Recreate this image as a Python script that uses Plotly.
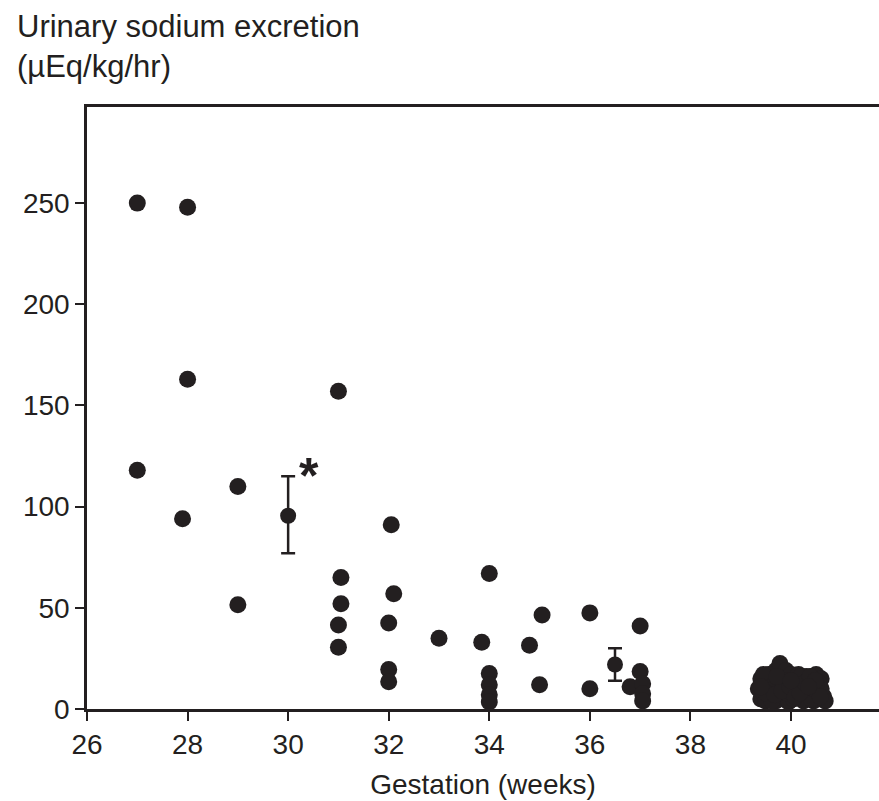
import plotly.graph_objects as go

# Individual infants: gestation (weeks) and urinary sodium excretion (uEq/kg/hr)
gest_weeks = [27, 28, 28, 27, 27.9, 29, 29, 31,
              32.05, 31.05, 31.05, 31.0, 31.0, 32.1, 32.0, 32.0, 32.0,
              33.0, 34.0, 33.85, 34.0, 34.0, 34.0, 34.0,
              35.05, 34.8, 35.0, 36.0, 36.0,
              37.0, 37.0, 36.8, 37.05, 37.05, 37.05]
sodium = [250, 248, 163, 118, 94, 110, 51.5, 157,
          91, 65, 52, 41.5, 30.5, 57, 42.5, 19.5, 13.5,
          35, 67, 33, 17.5, 12, 7, 3.5,
          46.5, 31.5, 12, 47.5, 10,
          41, 18.5, 11, 12.5, 7.5, 4]

# Term infants cluster
term_weeks = [39.35, 39.4, 39.4, 39.45, 39.5, 39.5, 39.55, 39.6, 39.65, 39.7,
              39.7, 39.75, 39.78, 39.8, 39.85, 39.9, 39.9, 39.95, 40.0, 40.0,
              40.05, 40.12, 40.15, 40.2, 40.25, 40.3, 40.35, 40.4, 40.45, 40.5,
              40.55, 40.6, 40.65, 40.68,
              39.45, 39.6, 39.62, 39.75, 39.85, 39.95, 40.05, 40.1, 40.25, 40.3,
              40.4, 40.45, 40.55, 40.6, 39.55, 39.9, 40.2, 40.5,
              39.5, 39.68, 39.82, 39.98, 40.08, 40.18, 40.28, 40.38, 40.48, 40.58,
              39.4, 39.72, 40.0, 40.35]
term_sodium = [10, 5, 15, 8, 12, 4, 17, 7, 14, 19,
               4, 10, 22.5, 16, 6, 19, 12, 3.5, 17, 9,
               14, 10, 17, 12, 4, 16, 8, 13, 4, 17,
               9, 15, 6, 4,
               17, 11, 4, 14, 11, 14, 5, 14, 9, 12,
               5, 10, 13, 10, 9, 8, 16, 12,
               8, 7, 9, 11, 6, 8, 13, 16, 14, 6,
               11, 16, 14, 11]

# Group means with error bars
mean_weeks = [30.0, 36.5]
mean_sodium = [95.5, 22]
err_plus = [19.5, 8]
err_minus = [18.5, 8]

x_ticks = [26, 28, 30, 32, 34, 36, 38, 40]
y_ticks = [0, 50, 100, 150, 200, 250]

ink = "#231f20"
font_family = "Liberation Sans, Arial, sans-serif"

fig = go.Figure()
fig.add_trace(go.Scatter(x=gest_weeks + term_weeks, y=sodium + term_sodium,
                         mode="markers", cliponaxis=False,
                         marker=dict(size=17, color=ink, line=dict(width=0))))
fig.add_trace(go.Scatter(x=mean_weeks, y=mean_sodium, mode="markers", cliponaxis=False,
                         marker=dict(size=16, color=ink, line=dict(width=0)),
                         error_y=dict(type="data", symmetric=False, array=err_plus,
                                      arrayminus=err_minus, color=ink, thickness=2.5, width=7)))

fig.add_annotation(x=30.42, y=120, text="<b>*</b>", showarrow=False, xref="x", yref="y",
                   font=dict(size=50, color=ink, family=font_family), yshift=-10)

fig.add_annotation(x=0, y=1, xref="paper", yref="paper", xanchor="left", yanchor="top",
                   text="Urinary sodium excretion<br>(µEq/kg/hr)", align="left",
                   showarrow=False, xshift=-72, yshift=100,
                   font=dict(size=31, color=ink, family=font_family))

fig.update_layout(
    width=879, height=801,
    margin=dict(l=87, r=0, t=107, b=92),
    paper_bgcolor="white", plot_bgcolor="white",
    showlegend=False,
    font=dict(family=font_family, color=ink, size=28),
    xaxis=dict(range=[26, 41.75], tickvals=x_ticks, ticktext=[str(v) for v in x_ticks],
               showgrid=False, zeroline=False, showline=True, linecolor=ink, linewidth=2.5,
               mirror=True, ticks="outside", ticklen=9, tickwidth=2, tickcolor=ink,
               tickfont=dict(size=28), title=dict(text="Gestation (weeks)", font=dict(size=28), standoff=16)),
    yaxis=dict(range=[0, 297.5], tickvals=y_ticks, ticktext=[str(v) for v in y_ticks],
               showgrid=False, zeroline=False, showline=True, linecolor=ink, linewidth=2.5,
               ticks="outside", ticklen=9, tickwidth=2, tickcolor=ink,
               tickfont=dict(size=28)),
)

fig.write_html("out.html")
